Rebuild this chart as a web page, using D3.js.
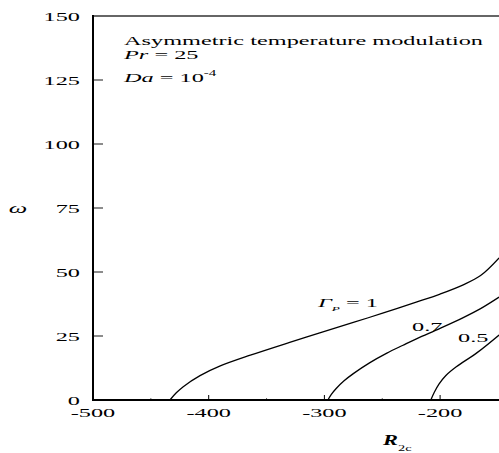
<!DOCTYPE html>
<html>
<head>
<meta charset="utf-8">
<script src="https://cdn.jsdelivr.net/npm/d3@7"></script>
<style>
  body { margin: 0; background: #fff; }
  svg { display: block; }
  text { font-family: "Liberation Serif", "Times New Roman", serif; }
</style>
</head>
<body>
<div id="chart"></div>
<script>
const W = 499, H = 453;

// values
const xTicks = [-500, -400, -300, -200];
const xMinor = [-450, -350, -250];
const yTicks = [0, 25, 50, 75, 100, 125, 150];

const g1R = [-433.5, -428, -422, -407.5, -390, -364, -330, -304, -275, -249, -220, -200, -180, -165, -149];
const g1W = [0, 2.8, 5.2, 9.5, 13.3, 17.5, 22.5, 26.2, 30.3, 34, 38.3, 41.4, 45, 48.6, 55.5];

const g07R = [-297, -294, -290, -283, -275, -261, -246, -232, -220, -200, -180, -165, -149];
const g07W = [0, 2.2, 4.4, 7.5, 10.3, 14.5, 18.3, 21.4, 24, 28, 32.2, 35.7, 40.2];

const g05R = [-208, -205, -201, -195, -186, -168, -149];
const g05W = [0, 3, 6.2, 9.6, 13, 18.5, 25.4];

const sx = 1.87; // text in the picture is stretched horizontally

const svg = d3.select("#chart").append("svg")
    .attr("width", W).attr("height", H)

const x = d3.scaleLinear().domain([-500, -100]).range([93, 93 + 400 * 1.157])
const y = d3.scaleLinear().domain([0, 150]).range([400, 16])

function txt(px, py, str, opts) {
    opts = opts || {};
    const t = svg.append("text")
        .attr("transform", 'translate(' + px + ',' + py + ') scale(' + (opts.sx || sx) + ',1)')
        .style("font-size", (opts.size || 13) + "px")
        .attr("text-anchor", opts.anchor || "start")
        .attr("fill", "#000")
    if (opts.style) t.style("font-style", opts.style)
    if (opts.weight) t.style("font-weight", opts.weight)
    t.text(str)
    return t;
}

// top frame line (grey)
svg.append("line")
    .attr("x1", x(-500)).attr("x2", W + 5)
    .attr("y1", y(150)).attr("y2", y(150))
    .attr("stroke", "#666").attr("stroke-width", 2)

// y ticks (inside, grey)
svg.selectAll(".ytick").data(yTicks.filter(d => d > 0 && d < 150))
    .enter().append("line")
    .attr("x1", x(-500)).attr("x2", x(-500) + 10)
    .attr("y1", d => y(d)).attr("y2", d => y(d))
    .attr("stroke", "#666").attr("stroke-width", 1.5)

// x ticks (inside)
svg.selectAll(".xtick").data(xTicks.slice(1))
    .enter().append("line")
    .attr("x1", d => x(d)).attr("x2", d => x(d))
    .attr("y1", y(0)).attr("y2", y(0) - 5)
    .attr("stroke", "#000").attr("stroke-width", 1)
svg.selectAll(".xminor").data(xMinor)
    .enter().append("line")
    .attr("x1", d => x(d)).attr("x2", d => x(d))
    .attr("y1", y(0)).attr("y2", y(0) - 2)
    .attr("stroke", "#666").attr("stroke-width", 1)

// axes lines
svg.append("line")
    .attr("x1", x(-500)).attr("x2", x(-500))
    .attr("y1", y(150) - 1).attr("y2", y(0) + 1)
    .attr("stroke", "#000").attr("stroke-width", 2)
svg.append("line")
    .attr("x1", x(-500)).attr("x2", W + 5)
    .attr("y1", y(0)).attr("y2", y(0))
    .attr("stroke", "#000").attr("stroke-width", 2)

// tick labels
yTicks.forEach(d => txt(80, y(d) + 4.5, String(d), { anchor: "end" }))
xTicks.forEach(d => txt(x(d), 417, String(d), { anchor: "middle" }))

// curves
const lineGen = d3.line()
    .x(d => x(d[0]))
    .y(d => y(d[1]))
    .curve(d3.curveCatmullRom.alpha(0.5))

const series = [[g1R, g1W], [g07R, g07W], [g05R, g05W]];
series.forEach(s => {
    svg.append("path")
        .datum(s[0].map((r, i) => [r, s[1][i]]))
        .attr("d", lineGen)
        .attr("fill", "none")
        .attr("stroke", "#000").attr("stroke-width", 1.3)
})

// curve labels
const gl = txt(318, 307, "", { style: "italic" })
gl.append("tspan").text("Γ")
gl.append("tspan").style("font-size", "7px").attr("dy", 4).text("P")
gl.append("tspan").style("font-style", "normal").attr("dy", -4).text(" = 1")
txt(412, 331, "0.7")
txt(458, 342, "0.5")

// annotation
txt(124, 45, "Asymmetric temperature modulation")
const pr = txt(124, 59, "", {})
pr.append("tspan").style("font-style", "italic").text("Pr")
pr.append("tspan").text(" = 25")
const da = txt(124, 82, "", {})
da.append("tspan").style("font-style", "italic").text("Da")
da.append("tspan").text(" = 10")
da.append("tspan").style("font-size", "8px").attr("dy", -6).text("-4")

// axis titles
txt(18, 213, "ω", { style: "italic", anchor: "middle", size: 14 })
const rt = txt(383, 445, "", { weight: "bold", style: "italic", size: 14, sx: 1.6 })
rt.append("tspan").text("R")
rt.append("tspan").style("font-weight", "normal").style("font-style", "normal")
    .style("font-size", "9px").attr("dy", 6).text("2c")
</script>
</body>
</html>
